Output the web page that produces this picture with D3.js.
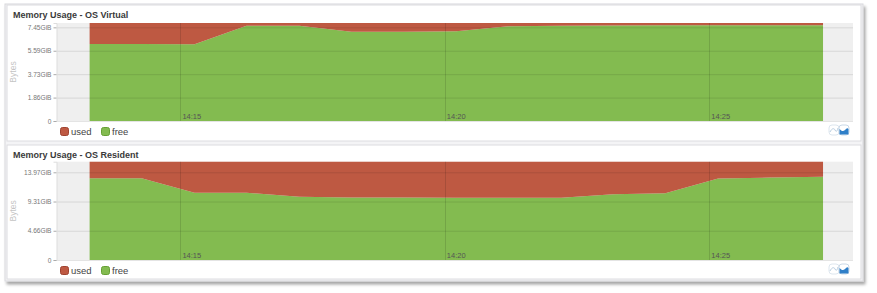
<!DOCTYPE html>
<html><head><meta charset="utf-8">
<script src="https://cdn.jsdelivr.net/npm/d3@7"></script>
<style>
html,body{margin:0;padding:0;background:#fff;}
svg{display:block;font-family:"Liberation Sans",Arial,sans-serif;}
</style></head>
<body>
<svg id="c" width="877" height="293"></svg>
<script>
// ---- data (bytes in units of 1e9) ----
const times = ["14:13:17","14:14:16","14:15:16","14:16:15","14:17:15","14:18:14","14:19:13","14:20:13","14:21:12","14:22:12","14:23:11","14:24:10","14:25:10","14:26:09","14:27:09"];
const virtualFree = [6.58,6.58,6.56,8.14,8.14,7.62,7.63,7.66,8.10,8.14,8.15,8.17,8.17,8.17,8.17];
const virtualUsed = [1.79,1.79,1.81,0.23,0.23,0.75,0.74,0.71,0.27,0.23,0.22,0.20,0.20,0.20,0.20];
const residentFree = [13.97,13.97,11.50,11.50,10.83,10.70,10.67,10.66,10.66,10.66,11.25,11.40,13.95,14.10,14.25];
const residentUsed = [2.84,2.84,5.31,5.31,5.98,6.11,6.14,6.15,6.15,6.15,5.56,5.41,2.86,2.71,2.56];
const virtualTicks = [0,2,4,6,8];
const residentTicks = [0,5,10,15];
const xTickLabels = ["14:15","14:20","14:25"];
const xDomain = ["14:12:40","14:27:43"];
const seriesNames = ["used","free"];
const titles = ["Memory Usage - OS Virtual","Memory Usage - OS Resident"];

const parse = d3.timeParse("%H:%M:%S");
const parseHM = d3.timeParse("%H:%M");
const COLORS = {used:"#be5942", free:"#83bb50"};
const STROKES = {used:"#9f4330", free:"#66a035"};

const svg = d3.select("#c");
const defs = svg.append("defs");
const f = defs.append("filter").attr("id","sh").attr("x","-5%").attr("y","-5%").attr("width","110%").attr("height","115%");
f.append("feDropShadow").attr("dx",2).attr("dy",3).attr("stdDeviation",1.6).attr("flood-color","#000").attr("flood-opacity",0.35);

// outer container
svg.append("rect").attr("x",5).attr("y",4).attr("width",858).attr("height",277)
  .attr("fill","#f4f4f6").attr("stroke","#d8d8dc").attr("filter","url(#sh)");

const x = d3.scaleTime().domain(xDomain.map(parse)).range([57,853]);

function panel(cfg){
  const g = svg.append("g");
  const top = cfg.top;
  g.append("rect").attr("x",7).attr("y",top).attr("width",854).attr("height",cfg.h)
    .attr("fill","#fff").attr("stroke","#dcdce0");
  g.append("text").attr("x",13).attr("y",top+13).attr("font-size",9).attr("font-weight","bold")
    .attr("fill","#3a3a3a").text(cfg.title);

  const y = d3.scaleLinear().domain([0,cfg.max]).range([cfg.y0,cfg.y1]);
  // plot background
  g.append("rect").attr("x",x.range()[0]).attr("y",cfg.y1).attr("width",x.range()[1]-x.range()[0])
    .attr("height",cfg.y0-cfg.y1).attr("fill","#efefef");

  const rows = times.map((t,i)=>({t:parse(t), free:cfg.free[i], used:cfg.used[i]}));
  const stack = d3.stack().keys(["free","used"])(rows);
  const area = d3.area().x(d=>x(d.data.t)).y0(d=>y(d[0])).y1(d=>y(d[1]));
  g.selectAll("path.a").data(stack).join("path").attr("class","a")
    .attr("d",area).attr("fill",d=>COLORS[d.key]);

  // grid
  g.selectAll("line.h").data(cfg.ticks.slice(1)).join("line")
    .attr("x1",x.range()[0]).attr("x2",x.range()[1])
    .attr("y1",d=>y(d)+0.5).attr("y2",d=>y(d)+0.5)
    .attr("stroke","rgba(0,0,0,0.1)");
  g.selectAll("line.v").data(xTickLabels).join("line")
    .attr("x1",d=>Math.round(x(parseHM(d)))+0.5).attr("x2",d=>Math.round(x(parseHM(d)))+0.5)
    .attr("y1",cfg.y1).attr("y2",cfg.y0)
    .attr("stroke","rgba(0,0,0,0.12)");
  g.append("line").attr("x1",x.range()[0]).attr("x2",x.range()[1]).attr("y1",cfg.y0+0.5).attr("y2",cfg.y0+0.5)
    .attr("stroke","#e4e4e4");

  // y axis
  const ax = d3.axisLeft(y).tickValues(cfg.ticks).tickSize(3).tickPadding(2)
    .tickFormat(d=> d===0 ? "0" : (d*1e9/Math.pow(2,30)).toFixed(2)+"GiB");
  const ag = g.append("g").attr("transform","translate(56.5,0)").call(ax);
  ag.select(".domain").attr("stroke","#ddd");
  ag.selectAll(".tick line").attr("stroke","#aaa");
  ag.selectAll(".tick text").attr("font-size",6.6).attr("fill","#777").attr("font-family","'Liberation Sans',Arial,sans-serif");

  // x labels
  g.selectAll("text.xl").data(xTickLabels).join("text")
    .attr("x",d=>x(parseHM(d))+2).attr("y",cfg.y0-2.5)
    .attr("font-size",7.5).attr("fill","#555").text(d=>d);

  // y title
  g.append("text").attr("transform",`translate(15.5,${(cfg.y0+cfg.y1)/2}) rotate(-90)`)
    .attr("text-anchor","middle").attr("font-size",8.5).attr("fill","#c4c4c4").text("Bytes");

  // legend
  const lg = g.append("g").attr("transform",`translate(60,${cfg.y0+6})`);
  const items = lg.selectAll("g").data(seriesNames).join("g")
    .attr("transform",(d,i)=>`translate(${i*41},0)`);
  items.append("rect").attr("x",0.5).attr("y",0.5).attr("width",8).attr("height",8).attr("rx",2)
    .attr("fill",d=>COLORS[d]).attr("stroke",d=>STROKES[d]);
  items.append("text").attr("x",11).attr("y",8).attr("font-size",9.5).attr("fill","#444").text(d=>d);

  // chart type toggles
  const ic = g.append("g").attr("transform",`translate(829,${cfg.y0+4})`);
  ic.append("rect").attr("x",0).attr("y",0).attr("width",10).attr("height",10).attr("rx",3)
    .attr("fill","#fff").attr("stroke","#dde6ee");
  ic.append("path").attr("d","M1,7 C3,3 5,3 6,5 S8,7 9,3").attr("fill","none").attr("stroke","#b8cde0");
  ic.append("rect").attr("x",10).attr("y",0).attr("width",10).attr("height",10).attr("rx",3)
    .attr("fill","#fff").attr("stroke","#c9d8e6");
  ic.append("path").attr("d","M10.5,4 C12.5,6 14,7 16,5 S18.5,3 19.5,4 L19.5,9.5 L10.5,9.5 Z").attr("fill","#2f7fc8");
}

panel({top:5, h:136, title:titles[0], free:virtualFree, used:virtualUsed, max:8.37, ticks:virtualTicks, y0:121, y1:23});
panel({top:145, h:134, title:titles[1], free:residentFree, used:residentUsed, max:16.81, ticks:residentTicks, y0:260, y1:161.7});
</script>
</body></html>
